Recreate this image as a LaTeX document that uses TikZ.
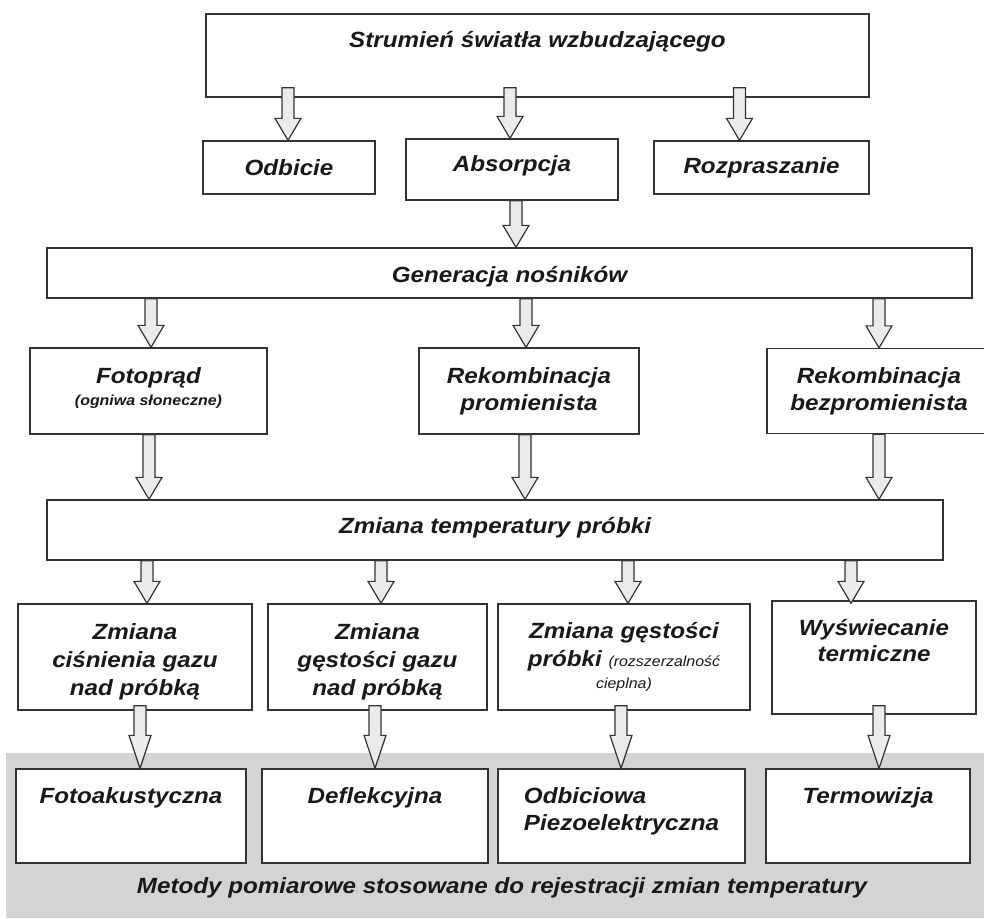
\documentclass[tikz,border=0pt]{standalone}
\usepackage{fontspec}
\setmainfont{Liberation Sans}[FakeStretch=1.1]
\usetikzlibrary{calc}

\newcommand{\smallnote}{\fontsize{14.5}{16}\selectfont}
\newcommand{\headlen}{22pt}
\newcommand{\headwid}{13pt}
\newcommand{\hollowarrow}[3][0pt]{%
  \filldraw[blockarrow] let \p1=(#2), \p2=(#3) in
    (\x2-6pt,\y1-#1) -- (\x2-6pt,\y2-\headlen) -- (\x2-\headwid,\y2-\headlen) -- (\x2,\y2)
    -- (\x2+\headwid,\y2-\headlen) -- (\x2+6pt,\y2-\headlen) -- (\x2+6pt,\y1-#1) -- cycle ;}

\tikzset{every picture/.style={line width=1.3pt},
  box/.style={draw=black!80, fill=white, align=center, inner sep=0pt,
    text=black!90, font=\fontsize{22}{28}\selectfont\bfseries\itshape},
  lift/.style 2 args={text height=#1, text depth=#2},
  blockarrow/.style={draw=black!80, fill=black!8, line width=1.2pt, line join=miter},
  band/.style={fill=black!17, draw=none}}

\begin{document}
\begin{tikzpicture}[x=1pt,y=1pt,yscale=-1,xscale=1]
\useasboundingbox (0,0) rectangle (984,918);

%Grey band of measuring methods
\path[band] (6,753) rectangle (992,918);

%Row 1
\node[box, minimum width=663, minimum height=83, lift={16pt}{33pt}] (light) at (537.5,55.5) {Strumień światła wzbudzającego};
\node[box, minimum width=172, minimum height=53] (refl) at (289,167.5) {Odbicie};
\node[box, minimum width=212, minimum height=61, lift={16pt}{13pt}] (absorb) at (512,169.5) {Absorpcja};
\node[box, minimum width=215, minimum height=53] (scatter) at (761.5,167.5) {Rozpraszanie};

%Row 2
\node[box, minimum width=925, minimum height=50, lift={20pt}{2pt}] (carriers) at (509.5,273) {Generacja nośników};

%Row 3
\node[box, minimum width=237, minimum height=86, lift={32pt}{4pt}] (photocur) at (148.5,391) {Fotoprąd\\[-6pt]{\smallnote (ogniwa słoneczne)}};
\node[box, minimum width=220, minimum height=86] (radrec) at (529,391) {Rekombinacja\\[-1pt]promienista};
\node[box, minimum width=224, minimum height=85] (nonrad) at (879,391) {Rekombinacja\\[-1pt]bezpromienista};

%Row 4
\node[box, minimum width=896, minimum height=60, lift={16pt}{10pt}] (temp) at (495,530) {Zmiana temperatury próbki};

%Row 5
\node[box, minimum width=234, minimum height=106, lift={80pt}{4pt}] (press) at (135,657) {Zmiana\\ciśnienia gazu\\nad próbką};
\node[box, minimum width=219, minimum height=106, lift={80pt}{4pt}] (gasdens) at (377.5,657) {Zmiana\\gęstości gazu\\nad próbką};
\node[box, minimum width=252, minimum height=106] (sampdens) at (624,657) {Zmiana gęstości\\próbki {\smallnote\mdseries (rozszerzalność}\\[-6pt]{\smallnote\mdseries cieplna)}};
\node[box, minimum width=204, minimum height=113, lift={16pt}{9pt}] (glow) at (874,657.5) {Wyświecanie\\[-2pt]termiczne};

%Row 6: methods
\node[box, minimum width=230, minimum height=94, lift={16pt}{42pt}] (pas) at (131,816) {Fotoakustyczna};
\node[box, minimum width=226, minimum height=94, lift={16pt}{42pt}] (defl) at (375,816) {Deflekcyjna};
\node[box, minimum width=247, minimum height=94, lift={40pt}{12pt}, align=left] (piezo) at (621.5,816) {Odbiciowa\\[-1pt]Piezoelektryczna};
\node[box, minimum width=204, minimum height=94, lift={16pt}{42pt}] (thermo) at (868,816) {Termowizja};

% Text Node
\node[box, draw=none, fill=none] (caption) at (502,888) {Metody pomiarowe stosowane do rejestracji zmian temperatury};

%Block arrows
\hollowarrow[10pt]{light.south}{$(refl.north)+(-1,0)$}
\hollowarrow[10pt]{light.south}{$(absorb.north)+(-2,0)$}
\hollowarrow[10pt]{light.south}{$(scatter.north)+(-22,0)$}
\hollowarrow{absorb.south}{$(carriers.north)+(6.5,0)$}
\hollowarrow{carriers.south}{$(photocur.north)+(2.5,0)$}
\hollowarrow{carriers.south}{$(radrec.north)+(-3,0)$}
\hollowarrow{carriers.south}{nonrad.north}
\hollowarrow{photocur.south}{$(temp.north -| photocur.north)+(0.5,0)$}
\hollowarrow{radrec.south}{$(temp.north -| radrec.north)+(-4,0)$}
\hollowarrow{nonrad.south}{temp.north -| nonrad.north}
\hollowarrow{temp.south}{$(press.north)+(12,0)$}
\hollowarrow{temp.south}{$(gasdens.north)+(3.5,0)$}
\hollowarrow{temp.south}{$(sampdens.north)+(4,0)$}
\hollowarrow{temp.south}{$(glow.north)+(-23,3)$}
%longer heads into the methods
\renewcommand{\headlen}{33pt}
\renewcommand{\headwid}{11pt}
\hollowarrow[5pt]{press.south}{$(pas.north)+(9,0)$}
\hollowarrow[5pt]{gasdens.south}{defl.north}
\hollowarrow[5pt]{sampdens.south}{$(piezo.north)+(-0.5,0)$}
\hollowarrow[9pt]{glow.south}{$(thermo.north)+(11,0)$}

\end{tikzpicture}
\end{document}
